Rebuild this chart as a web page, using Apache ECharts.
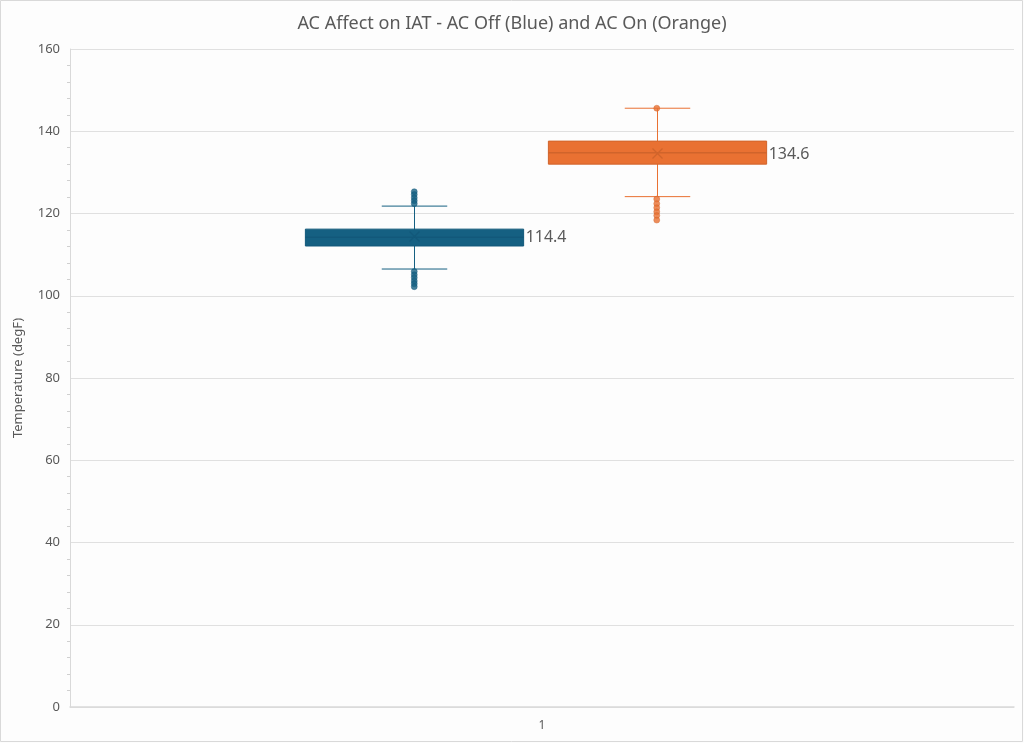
<!DOCTYPE html>
<html>
<head>
<meta charset="utf-8">
<script src="https://cdn.jsdelivr.net/npm/echarts@6/dist/echarts.min.js"></script>
<style>
html,body{margin:0;padding:0;background:#fdfdfd;}
#chart{width:1024px;height:743px;}
</style>
</head>
<body>
<div id="chart"></div>
<script>
// ---- data ----
const xCategories = ['1'];
const groups = ['AC Off', 'AC On'];
const lowerWhisker = [106.5, 124.1];
const q1 = [112.1, 132.0];
const median = [114.2, 134.8];
const q3 = [116.2, 137.6];
const upperWhisker = [121.8, 145.6];
const means = [114.4, 134.6];
const outliersOff = [125.3, 124.6, 123.8, 123.1, 122.4, 105.9, 105.1, 104.4, 103.6, 102.9, 102.2];
const outliersOn = [145.6, 123.5, 122.4, 121.4, 120.4, 119.5, 118.4];
const yTicks = [0, 20, 40, 60, 80, 100, 120, 140, 160];

// ---- styles ----
const fills = ['#156082', '#E97132'];
const strokes = ['#12587a', '#d0642b'];
const textColor = '#595959';

const boxData = groups.map((g, i) => [i, lowerWhisker[i], q1[i], median[i], q3[i], upperWhisker[i], means[i]]);

function renderBox(params, api) {
  const i = api.value(0);
  const band = api.size([1, 0])[0];
  const bw = band * 0.9;
  const cw = band * 0.27;
  const pLow = api.coord([i, api.value(1)]);
  const pQ1 = api.coord([i, api.value(2)]);
  const pMed = api.coord([i, api.value(3)]);
  const pQ3 = api.coord([i, api.value(4)]);
  const pHigh = api.coord([i, api.value(5)]);
  const pMean = api.coord([i, api.value(6)]);
  const cx = Math.round(pLow[0]) + 0.5;
  const fill = fills[i], stroke = strokes[i];
  const ls = {stroke: fill, lineWidth: 1};
  const m = 5;
  return {
    type: 'group',
    children: [
      {type: 'line', shape: {x1: cx, y1: pLow[1], x2: cx, y2: pHigh[1]}, style: ls},
      {type: 'line', shape: {x1: cx - cw / 2, y1: pLow[1], x2: cx + cw / 2, y2: pLow[1]}, style: ls},
      {type: 'line', shape: {x1: cx - cw / 2, y1: pHigh[1], x2: cx + cw / 2, y2: pHigh[1]}, style: ls},
      {type: 'rect', shape: {x: cx - bw / 2, y: pQ3[1], width: bw, height: pQ1[1] - pQ3[1]},
        style: {fill: fill, stroke: stroke, lineWidth: 1}},
      {type: 'line', shape: {x1: cx - bw / 2, y1: pMed[1], x2: cx + bw / 2, y2: pMed[1]},
        style: {stroke: stroke, lineWidth: 1.5}},
      {type: 'line', shape: {x1: cx - m, y1: pMean[1] - m, x2: cx + m, y2: pMean[1] + m}, style: {stroke: stroke, lineWidth: 1.3}},
      {type: 'line', shape: {x1: cx - m, y1: pMean[1] + m, x2: cx + m, y2: pMean[1] - m}, style: {stroke: stroke, lineWidth: 1.3}},
      {type: 'text', x: cx + bw / 2 + 2, y: pMean[1] + 1,
        style: {text: api.value(6).toFixed(1), fill: '#595959', font: '16px "Noto Sans"', verticalAlign: 'middle', align: 'left'}}
    ]
  };
}

const chart = echarts.init(document.getElementById('chart'));
chart.setOption({
  backgroundColor: '#fdfdfd',
  animation: false,
  title: {
    text: 'AC Affect on IAT - AC Off (Blue) and AC On (Orange)',
    left: 'center', top: 10,
    textStyle: {fontFamily: 'Noto Sans', fontSize: 18, fontWeight: 'normal', color: textColor}
  },
  graphic: [{type: 'rect', silent: true, z: 100, shape: {x: 0.5, y: 0.5, width: 1022, height: 741},
    style: {fill: null, stroke: '#d9d9d9', lineWidth: 1}}],
  grid: [
    {left: 70, right: 10, top: 49, bottom: 36},
    {left: 293, right: 246, top: 49, bottom: 36}
  ],
  xAxis: [
    {type: 'category', gridIndex: 0, data: xCategories,
      axisLine: {lineStyle: {color: '#d9d9d9', width: 1.5}}, axisTick: {show: false},
      axisLabel: {color: textColor, fontSize: 12, fontFamily: 'Noto Sans', margin: 13}},
    {type: 'category', gridIndex: 1, data: groups, show: false}
  ],
  yAxis: [
    {type: 'value', gridIndex: 0, min: yTicks[0], max: yTicks[yTicks.length - 1], interval: 20,
      name: 'Temperature (degF)', nameLocation: 'middle', nameGap: 45,
      nameTextStyle: {color: textColor, fontSize: 13, fontFamily: 'Noto Sans'},
      axisLine: {show: true, lineStyle: {color: '#d9d9d9'}}, axisTick: {show: false},
      minorTick: {show: true, splitNumber: 5, length: 3, lineStyle: {color: '#d0d0d0'}},
      axisLabel: {color: textColor, fontSize: 13, fontFamily: 'Noto Sans', margin: 10},
      splitLine: {lineStyle: {color: '#e0e0e0'}}},
    {type: 'value', gridIndex: 1, min: yTicks[0], max: yTicks[yTicks.length - 1], show: false}
  ],
  series: [
    {type: 'custom', xAxisIndex: 1, yAxisIndex: 1, renderItem: renderBox, data: boxData, z: 3},
    {type: 'scatter', xAxisIndex: 1, yAxisIndex: 1, symbolSize: 6, z: 4,
      itemStyle: {color: fills[0], borderColor: strokes[0], borderWidth: 0.5},
      data: outliersOff.map(v => [0, v])},
    {type: 'scatter', xAxisIndex: 1, yAxisIndex: 1, symbolSize: 6, z: 4,
      itemStyle: {color: fills[1], borderColor: strokes[1], borderWidth: 0.5},
      data: outliersOn.map(v => [1, v])}
  ]
});
</script>
</body>
</html>
